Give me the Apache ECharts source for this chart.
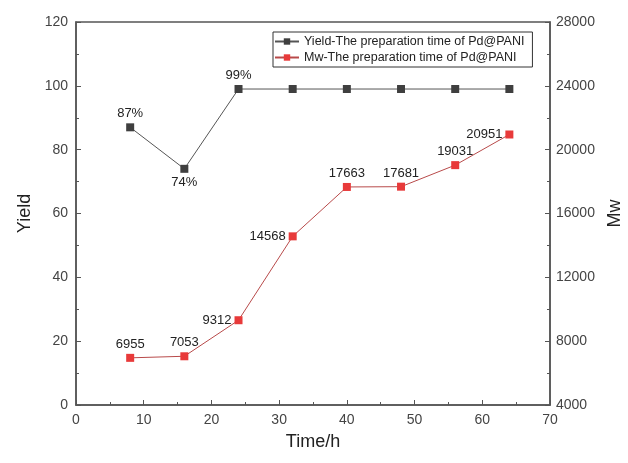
<!DOCTYPE html>
<html><head><meta charset="utf-8">
<script src="https://cdn.jsdelivr.net/npm/echarts@6/dist/echarts.min.js"></script>
<style>html,body{margin:0;padding:0;background:#fff}#c{width:628px;height:463px}</style>
</head><body><div id="c"></div>
<script>
var times = [8, 16, 24, 32, 40, 48, 56, 64];
var yieldVals = [87, 74, 99, 99, 99, 99, 99, 99];
var yieldLabels = ['87%', '74%', '99%', '', '', '', '', ''];
var mwVals = [6955, 7053, 9312, 14568, 17663, 17681, 19031, 20951];
var mwLabelPos = ['top', 'top', 'left', 'left', 'top', 'top', 'top', 'left'];
var yieldName = 'Yield-The preparation time of Pd@PANI';
var mwName = 'Mw-The preparation time of Pd@PANI';

var chart = echarts.init(document.getElementById('c'));
var axisCommon = {
  axisLine: {show: true, lineStyle: {color: '#555', width: 1.5}},
  axisTick: {show: true, inside: true, length: 5, lineStyle: {color: '#555'}},
  minorTick: {show: true, splitNumber: 2, length: 3, lineStyle: {color: '#555'}},
  splitLine: {show: false},
  axisLabel: {color: '#444', fontSize: 14, fontFamily: 'Liberation Sans, Arial'},
  nameTextStyle: {color: '#222', fontSize: 18, fontFamily: 'Liberation Sans, Arial'}
};
chart.setOption({
  animation: false,
  grid: {left: 76, right: 78, top: 22, bottom: 58, show: true, borderColor: '#555', borderWidth: 1.5, outerBoundsMode: 'none', containLabel: false},
  legend: {
    show: true, left: 273, top: 32, orient: 'vertical', itemGap: 3,
    itemWidth: 24, itemHeight: 8,
    borderColor: '#333', borderWidth: 1, padding: [3, 8, 3, 1],
    textStyle: {fontSize: 12.5, color: '#222', fontFamily: 'Liberation Sans, Arial'},
    data: [yieldName, mwName]
  },
  xAxis: Object.assign({}, axisCommon, {
    type: 'value', min: 0, max: 70, interval: 10,
    name: 'Time/h', nameLocation: 'middle', nameGap: 28
  }),
  yAxis: [
    Object.assign({}, axisCommon, {
      type: 'value', min: 0, max: 120, interval: 20,
      name: 'Yield', nameLocation: 'middle', nameGap: 37
    }),
    Object.assign({}, axisCommon, {
      type: 'value', position: 'right', min: 4000, max: 28000, interval: 4000,
      name: 'Mw', nameLocation: 'middle', nameGap: 50,
      axisLabel: Object.assign({}, axisCommon.axisLabel, {margin: 6, formatter: function (v) { return String(v); }})
    })
  ],
  series: [
    {
      name: yieldName, type: 'line', yAxisIndex: 0,
      symbol: 'rect', symbolSize: 8,
      itemStyle: {color: '#3f3f3f'},
      lineStyle: {color: '#555', width: 1},
      data: times.map(function (t, i) {
        return {value: [t, yieldVals[i]], label: {
          show: yieldLabels[i] !== '', formatter: yieldLabels[i],
          position: i === 1 ? 'bottom' : 'top', distance: 3
        }};
      }),
      label: {color: '#222', fontSize: 13, fontFamily: 'Liberation Sans, Arial'}
    },
    {
      name: mwName, type: 'line', yAxisIndex: 1,
      symbol: 'rect', symbolSize: 8,
      itemStyle: {color: '#e83a3a'},
      lineStyle: {color: '#b84a4a', width: 1},
      data: times.map(function (t, i) {
        return {value: [t, mwVals[i]], label: {show: true, position: mwLabelPos[i], distance: 3}};
      }),
      label: {color: '#222', fontSize: 13, fontFamily: 'Liberation Sans, Arial', formatter: function (p) { return p.value[1]; }}
    }
  ]
});
</script></body></html>
